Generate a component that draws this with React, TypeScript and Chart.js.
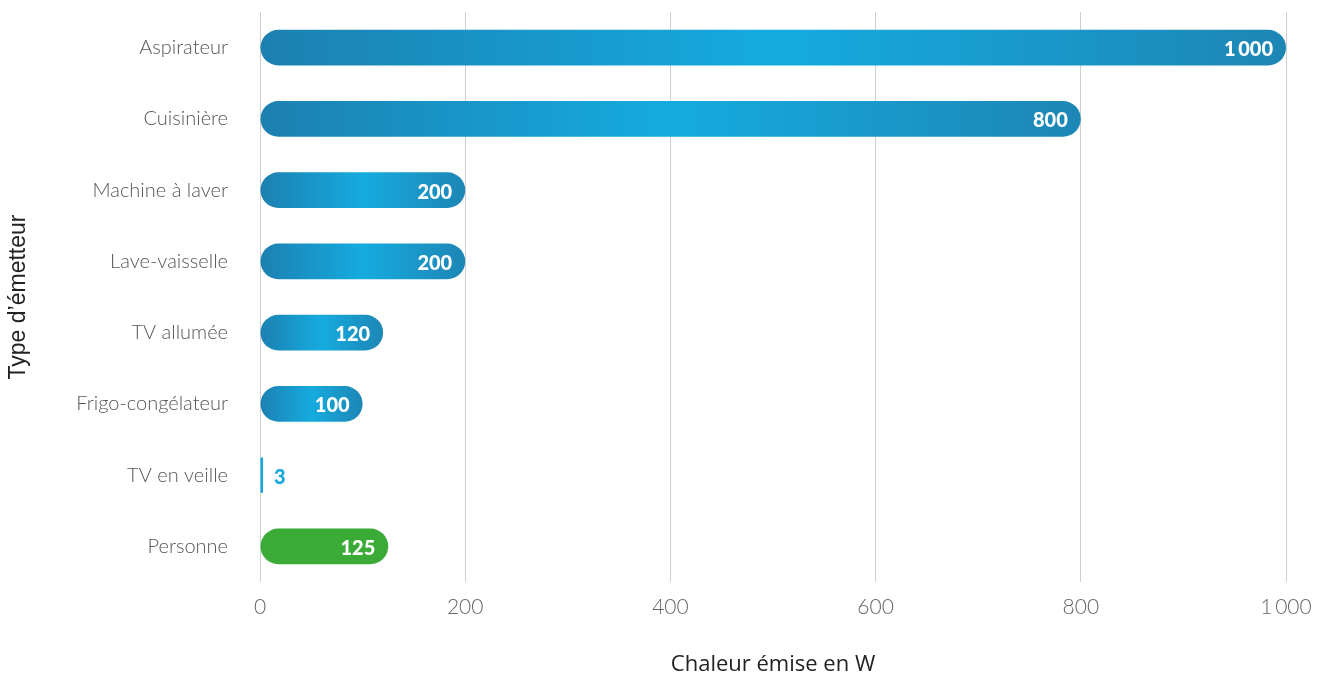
import React, { useEffect, useRef } from "react";
import { Chart, registerables } from "chart.js";

Chart.register(...registerables);

const categories = [
  "Aspirateur",
  "Cuisinière",
  "Machine à laver",
  "Lave-vaisselle",
  "TV allumée",
  "Frigo-congélateur",
  "TV en veille",
  "Personne",
];
const values = [1000, 800, 200, 200, 120, 100, 3, 125];
const xTicks = [0, 200, 400, 600, 800, 1000];
const xTitle = "Chaleur émise en W";
const yTitle = "Type d’émetteur";

const MID = "#15abdf";
const GREEN = "#3bab37";
const THIN = "#15a8dd";

const fmt = (v: number) => {
  const s = String(v);
  return s.length > 3 ? s.slice(0, s.length - 3) + "\u2009" + s.slice(-3) : s;
};

const labelPlugin = {
  id: "barLabels",
  afterDatasetsDraw(chart: any) {
    const ctx = chart.ctx;
    const meta = chart.getDatasetMeta(0);
    ctx.save();
    ctx.font = "900 20px Lato, 'Open Sans', sans-serif";
    ctx.textBaseline = "middle";
    meta.data.forEach((bar: any, i: number) => {
      const v = values[i];
      const text = fmt(v);
      const base = chart.scales.x.getPixelForValue(0);
      const w = bar.x - base;
      const tw = ctx.measureText(text).width;
      if (w < tw + 24) {
        ctx.fillStyle = THIN;
        ctx.textAlign = "left";
        ctx.fillText(text, bar.x + 11, bar.y + 2);
      } else {
        ctx.fillStyle = "#ffffff";
        ctx.textAlign = "right";
        ctx.fillText(text, bar.x - 13, bar.y + 2);
      }
    });
    ctx.restore();
  },
};

export default function App() {
  const ref = useRef<HTMLCanvasElement | null>(null);

  useEffect(() => {
    document.body.style.margin = "0";
    const canvas = ref.current;
    if (!canvas) return;
    const chart = new Chart(canvas, {
      type: "bar",
      data: {
        labels: categories,
        datasets: [
          {
            data: values,
            backgroundColor: (c: any) => {
              const i = c.dataIndex;
              if (categories[i] === "Personne") return GREEN;
              if (values[i] < 10) return THIN;
              const ch = c.chart;
              const sx = ch.scales && ch.scales.x;
              if (!sx || !ch.chartArea) return MID;
              const x0 = sx.getPixelForValue(0);
              const x1 = sx.getPixelForValue(values[i]);
              if (!isFinite(x0) || !isFinite(x1) || x1 - x0 < 1) return MID;
              const g = ch.ctx.createLinearGradient(x0, 0, x1, 0);
              g.addColorStop(0, "#1c80b1");
              g.addColorStop(0.5, MID);
              g.addColorStop(1, "#1d86b5");
              return g;
            },
            borderWidth: 0,
            borderRadius: 40,
            borderSkipped: false,
            barPercentage: 0.5,
            categoryPercentage: 1,
          },
        ],
      },
      options: {
        indexAxis: "y",
        responsive: false,
        animation: false,
        layout: { padding: { top: 12, right: 42, left: 0, bottom: 0 } },
        plugins: {
          legend: { display: false },
          tooltip: { enabled: false },
        },
        scales: {
          x: {
            min: 0,
            max: 1000,
            afterFit: (s: any) => {
              s.height = 96;
            },
            afterBuildTicks: (s: any) => {
              s.ticks = xTicks.map((v) => ({ value: v }));
            },
            ticks: {
              padding: 13,
              color: "#666",
              font: { family: "Lato, 'Open Sans', sans-serif", size: 21, weight: "300" },
              callback: (v: any) => fmt(Number(v)),
            },
            grid: { color: "#cfcfcf", lineWidth: 1, drawTicks: false },
            border: { display: false },
            title: {
              display: true,
              text: xTitle,
              color: "#222",
              font: { family: "'Open Sans', Lato, sans-serif", size: 22, weight: "400" },
              padding: { top: 0, bottom: 0 },
            },
          },
          y: {
            afterFit: (s: any) => {
              s.width = 260;
              s.paddingTop = 0;
              s.paddingBottom = 0;
            },
            ticks: {
              padding: 32,
              color: "#555",
              font: { family: "Lato, 'Open Sans', sans-serif", size: 20, weight: "300" },
            },
            grid: { display: false, drawTicks: false },
            border: { display: false },
            title: {
              display: true,
              text: yTitle,
              color: "#222",
              font: { family: "'Liberation Sans', Arial, sans-serif", size: 23 },
              padding: { top: 5, bottom: 0 },
            },
          },
        },
      } as any,
      plugins: [labelPlugin],
    });
    return () => chart.destroy();
  }, []);

  return (
    <div style={{ width: 1328, height: 678 }}>
      <canvas ref={ref} width={1328} height={678} style={{ display: "block" }} />
    </div>
  );
}
